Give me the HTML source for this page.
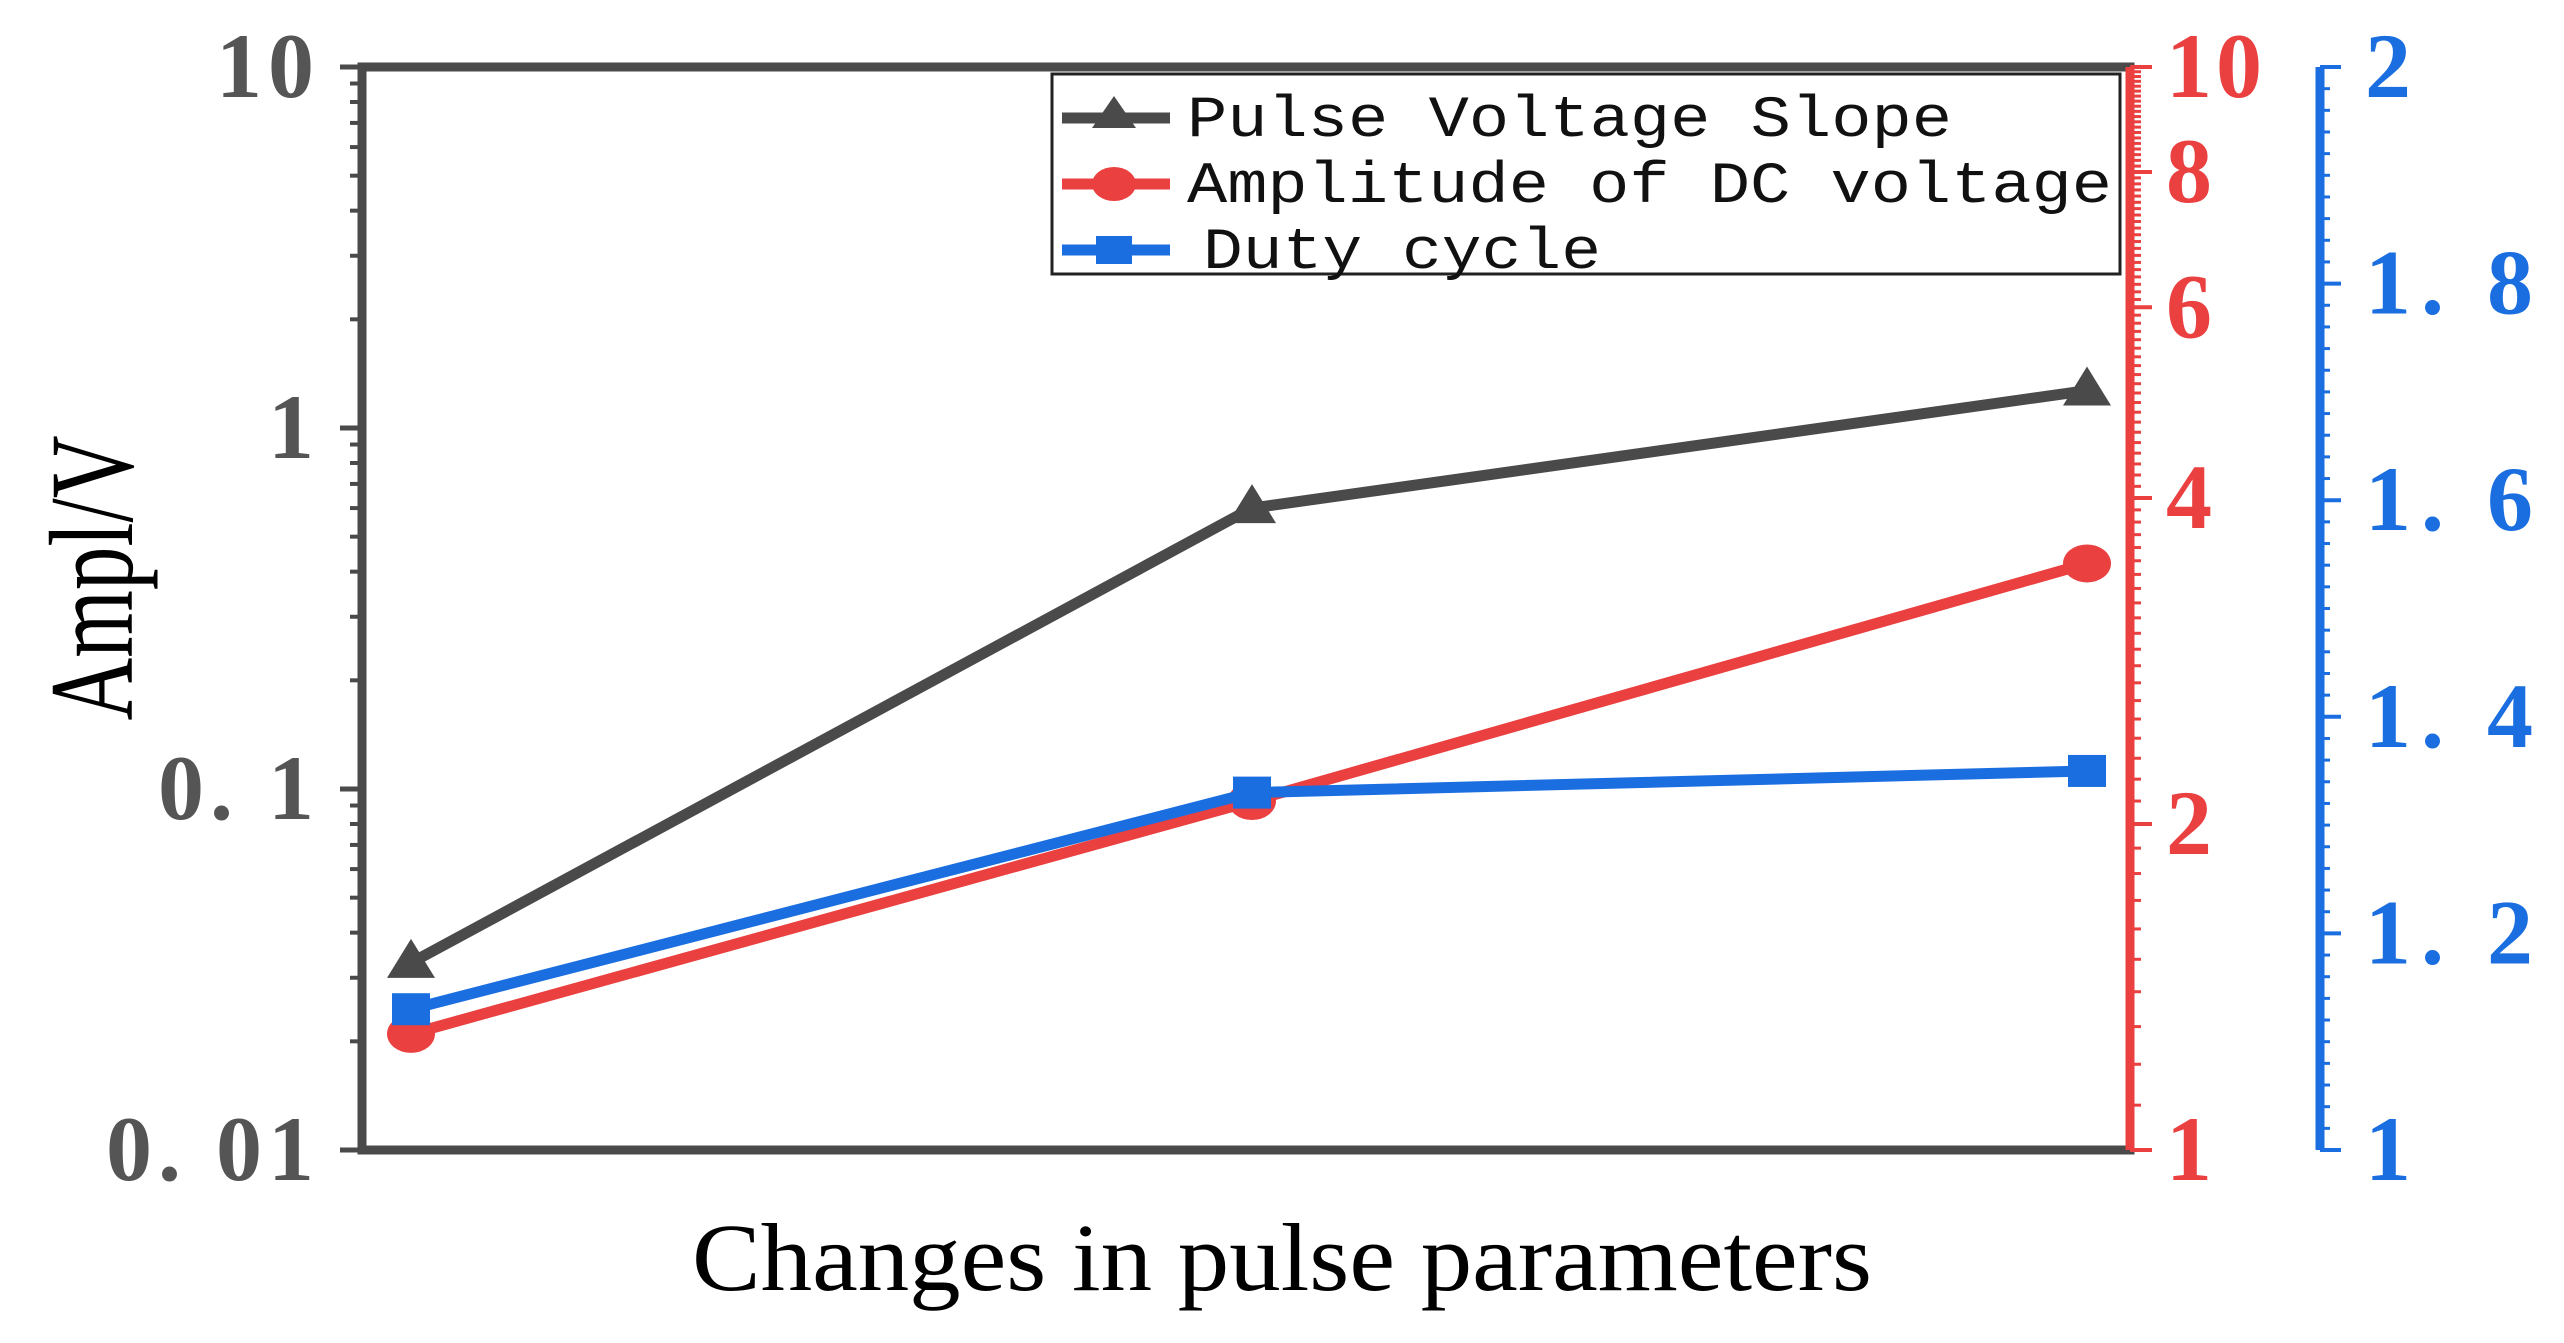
<!DOCTYPE html>
<html><head><meta charset="utf-8"><style>
html,body{margin:0;padding:0;background:#fff;}
svg{display:block;}
</style></head><body>
<svg id="chart" width="2564" height="1343" viewBox="0 0 2564 1343" xmlns="http://www.w3.org/2000/svg"></svg>
<script>
const categories = ["P1", "P2", "P3"];
const slopeValues = [0.033, 0.6, 1.27];
const dcValues = [1.28, 2.1, 3.48];
const dutyValues = [1.13, 1.33, 1.35];
const leftTicks = [10, 1, 0.1, 0.01];
const leftTickLabels = ["10", "1", "0. 1", "0. 01"];
const redTicks = [1, 2, 4, 6, 8, 10];
const redTickLabels = ["1", "2", "4", "6", "8", "10"];
const blueTicks = [1, 1.2, 1.4, 1.6, 1.8, 2];
const blueTickLabels = ["1", "1. 2", "1. 4", "1. 6", "1. 8", "2"];

const svg = document.getElementById('chart');
const NS = 'http://www.w3.org/2000/svg';
const L = 362, R = 2130, T = 67, B = 1150;
const xPos = [411, 1252, 2087];
const yLeft = v => B - (Math.log10(v) + 2) / 3 * (B - T);
const yRed = v => B - Math.log10(v) * (B - T);
const yBlue = v => B - (v - 1) * (B - T);
const xScale = i => xPos[i];
const GRAY = '#4a4a4a', RED = '#ea4040', BLUE = '#1a6ee0';

function mk(tag, attrs, parent) {
  const e = document.createElementNS(NS, tag);
  for (const k in attrs) e.setAttribute(k, attrs[k]);
  (parent || svg).appendChild(e);
  return e;
}

const frame = mk('rect', {x: L, y: T, width: R - L, height: B - T, fill: 'none', stroke: GRAY, 'stroke-width': 9});



const gL = mk('g', {});


for (let d = -2; d < 1; d++) {
  for (let m = 2; m <= 9; m++) {
    const y = yLeft(m * Math.pow(10, d));
    mk('line', {x1: L - 12, x2: L, y1: y, y2: y, stroke: GRAY, 'stroke-width': 4}, gL);
  }
}
leftTicks.forEach((v, i) => {
  const y = yLeft(v);
  mk('line', {x1: L - 22, x2: L, y1: y, y2: y, stroke: GRAY, 'stroke-width': 5}, gL);
  const t = mk('text', {x: 320, y: y + 30, 'text-anchor': 'end', 'font-family': 'Liberation Serif, serif', 'font-size': 92, 'font-weight': 'bold', fill: '#555', 'letter-spacing': 6}, gL);
  t.textContent = leftTickLabels[i];
  
  
});

const RX = 2130;
const gR = mk('g', {});


mk('line', {x1: RX, x2: RX, y1: T, y2: B, stroke: RED, 'stroke-width': 9}, gR);
for (let v = 1.1; v < 10; v += 0.1) {
  const y = yRed(v);
  mk('line', {x1: RX, x2: RX + 11, y1: y, y2: y, stroke: RED, 'stroke-width': 3}, gR);
}
redTicks.forEach((v, i) => {
  const y = yRed(v);
  mk('line', {x1: RX, x2: RX + 22, y1: y, y2: y, stroke: RED, 'stroke-width': 4}, gR);
  const t = mk('text', {x: 2166, y: y + 30, 'font-family': 'Liberation Serif, serif', 'font-size': 92, 'font-weight': 'bold', fill: RED, 'letter-spacing': 4}, gR);
  t.textContent = redTickLabels[i];
  
  
});

const BX = 2320;
const gB = mk('g', {});


mk('line', {x1: BX, x2: BX, y1: T, y2: B, stroke: BLUE, 'stroke-width': 9}, gB);
for (let k = 1; k < 50; k++) {
  const y = yBlue(1 + k * 0.02);
  mk('line', {x1: BX, x2: BX + 10, y1: y, y2: y, stroke: BLUE, 'stroke-width': 3}, gB);
}
blueTicks.forEach((v, i) => {
  const y = yBlue(v);
  mk('line', {x1: BX, x2: BX + 21, y1: y, y2: y, stroke: BLUE, 'stroke-width': 4}, gB);
  const t = mk('text', {x: 2365, y: y + 30, 'font-family': 'Liberation Serif, serif', 'font-size': 92, 'font-weight': 'bold', fill: BLUE, 'letter-spacing': 10}, gB);
  t.textContent = blueTickLabels[i];
  
  
});

function series(vals, yf, color, marker, name) {
  const g = mk('g', {});
  
  
  const pts = vals.map((v, i) => xScale(i) + ',' + yf(v)).join(' ');
  mk('polyline', {points: pts, fill: 'none', stroke: color, 'stroke-width': 11, 'stroke-linejoin': 'round'}, g);
  vals.forEach((v, i) => {
    const x = xScale(i), y = yf(v);
    let m;
    if (marker === 'tri') m = mk('polygon', {points: `${x},${y-24} ${x-24},${y+15} ${x+24},${y+15}`, fill: color}, g);
    else if (marker === 'circle') m = mk('ellipse', {cx: x, cy: y, rx: 24, ry: 19, fill: color}, g);
    else m = mk('rect', {x: x - 19, y: y - 16, width: 38, height: 32, fill: color}, g);
    
    
  });
}
series(slopeValues, yLeft, GRAY, 'tri', 'pulse-voltage-slope-series');
series(dcValues, yRed, RED, 'circle', 'dc-amplitude-series');
series(dutyValues, yBlue, BLUE, 'square', 'duty-cycle-series');

const lg = mk('g', {});


mk('rect', {x: 1052, y: 74, width: 1068, height: 200, fill: '#fff', stroke: '#222', 'stroke-width': 3}, lg);
const legItems = [["Pulse Voltage Slope", GRAY, 'tri', 118, 1187, 765], ["Amplitude of DC voltage", RED, 'circle', 184, 1187, 925], ["Duty cycle", BLUE, 'square', 250, 1203, 398]];
legItems.forEach(([label, color, mkr, y, tx, tl]) => {
  const e = mk('g', {}, lg);
  
  
  mk('line', {x1: 1062, x2: 1170, y1: y, y2: y, stroke: color, 'stroke-width': 11}, e);
  if (mkr === 'tri') mk('polygon', {points: `1114,${y-22} 1092,${y+10} 1136,${y+10}`, fill: color}, e);
  else if (mkr === 'circle') mk('ellipse', {cx: 1114, cy: y, rx: 22, ry: 17, fill: color}, e);
  else mk('rect', {x: 1096, y: y - 14, width: 36, height: 28, fill: color}, e);
  const t = mk('text', {x: tx, y: y + 18, 'font-family': 'Liberation Mono, monospace', 'font-size': 58, fill: '#111', textLength: tl, lengthAdjust: 'spacingAndGlyphs'}, e);
  t.textContent = label;
});

const yt = mk('text', {x: 0, y: 0, transform: 'translate(132,578) rotate(-90)', 'text-anchor': 'middle', 'font-family': 'Liberation Serif, serif', 'font-size': 120, fill: '#000', textLength: 285, lengthAdjust: 'spacingAndGlyphs'});
yt.textContent = 'Ampl/V';


const xt = mk('text', {x: 1282, y: 1290, 'text-anchor': 'middle', 'font-family': 'Liberation Serif, serif', 'font-size': 96, fill: '#000', textLength: 1180, lengthAdjust: 'spacingAndGlyphs'});
xt.textContent = 'Changes in pulse parameters';


</script>
</body></html>
